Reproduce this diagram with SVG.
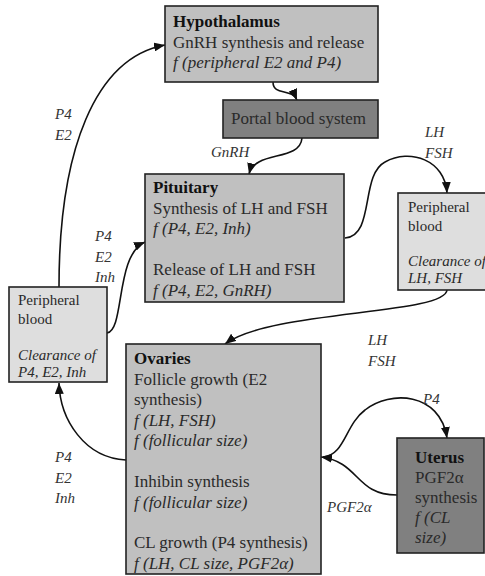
<svg xmlns="http://www.w3.org/2000/svg" width="485" height="576" viewBox="0 0 485 576">
<style>
  .box { stroke: #222; stroke-width: 1.6; }
  .light { fill: #c0c0c0; }
  .dark { fill: #808080; }
  .pale { fill: #dedede; }
  .t { font-family: "Liberation Serif", "Times New Roman", serif; font-size: 17px; fill: #2a2a2a; }
  .s { font-family: "Liberation Serif", "Times New Roman", serif; font-size: 15px; fill: #2a2a2a; }
  .b { font-weight: bold; fill: #111; }
  .i { font-style: italic; }
  .lbl { font-family: "Liberation Serif", "Times New Roman", serif; font-size: 15px; font-style: italic; fill: #333; }
  .edge { fill: none; stroke: #111; stroke-width: 1.6; }
</style>
<defs>
  <marker id="arr" viewBox="0 0 11 9" refX="11" refY="4.5" markerWidth="11" markerHeight="9" markerUnits="userSpaceOnUse" orient="auto">
    <path d="M0,0 L11,4.5 L0,9 z" fill="#111"/>
  </marker>
</defs>

<g id="edges">
  <path class="edge" marker-end="url(#arr)" d="M59 287 C59 150, 95 58, 165 45"/>
  <path class="edge" marker-end="url(#arr)" d="M107 333 C125 330, 115 255, 145 242"/>
  <path class="edge" marker-end="url(#arr)" d="M273 82 C273 96, 292 88, 297 100"/>
  <path class="edge" marker-end="url(#arr)" d="M302 138 C300 162, 255 150, 249 174"/>
  <path class="edge" marker-end="url(#arr)" d="M345 238 C375 236, 360 175, 385 162 C410 148, 445 160, 447 193"/>
  <path class="edge" marker-end="url(#arr)" d="M447 290 C445 315, 270 310, 225 344"/>
  <path class="edge" marker-end="url(#arr)" d="M126 460 C85 458, 60 420, 59 383"/>
  <path class="edge" marker-end="url(#arr)" d="M323 457 C345 455, 345 425, 365 410 C390 390, 440 392, 447 438"/>
  <path class="edge" marker-end="url(#arr)" d="M397 495 C355 495, 360 462, 321 457"/>
  <text class="lbl" x="55" y="119">P4</text>
  <text class="lbl" x="55" y="140">E2</text>
  <text class="lbl" x="95" y="241">P4</text>
  <text class="lbl" x="95" y="262">E2</text>
  <text class="lbl" x="95" y="282">Inh</text>
  <text class="lbl" x="211" y="157">GnRH</text>
  <text class="lbl" x="425" y="137">LH</text>
  <text class="lbl" x="425" y="158">FSH</text>
  <text class="lbl" x="368" y="345">LH</text>
  <text class="lbl" x="368" y="366">FSH</text>
  <text class="lbl" x="423" y="404">P4</text>
  <text class="lbl" x="327" y="512">PGF2α</text>
  <text class="lbl" x="55" y="462">P4</text>
  <text class="lbl" x="55" y="483">E2</text>
  <text class="lbl" x="55" y="503">Inh</text>
</g>

<g id="hypothalamus">
  <rect class="box light" x="165" y="6" width="213" height="76"/>
  <text class="t b" x="173" y="27">Hypothalamus</text>
  <text class="t" x="173" y="47.5">GnRH synthesis and release</text>
  <text class="t i" x="173" y="68">f (peripheral E2 and P4)</text>
</g>

<g id="portal">
  <rect class="box dark" x="223" y="100" width="155" height="38"/>
  <text class="t" x="231" y="124">Portal blood system</text>
</g>

<g id="pituitary">
  <rect class="box light" x="145" y="174" width="199" height="128"/>
  <text class="t b" x="153" y="193">Pituitary</text>
  <text class="t" x="153" y="213.5">Synthesis of LH and FSH</text>
  <text class="t i" x="153" y="234">f (P4, E2, Inh)</text>
  <text class="t" x="153" y="275">Release of LH and FSH</text>
  <text class="t i" x="153" y="295.5">f (P4, E2, GnRH)</text>
</g>

<g id="peripheral-left">
  <rect class="box pale" x="9" y="287" width="98" height="95"/>
  <text class="s" x="18" y="305">Peripheral</text>
  <text class="s" x="18" y="324">blood</text>
  <text class="s i" x="18" y="360">Clearance of</text>
  <text class="s i" x="18" y="377">P4, E2, Inh</text>
</g>

<g id="peripheral-right">
  <rect class="box pale" x="398" y="193" width="95" height="97"/>
  <text class="s" x="408" y="212">Peripheral</text>
  <text class="s" x="408" y="231">blood</text>
  <text class="s i" x="408" y="266">Clearance of</text>
  <text class="s i" x="408" y="283">LH, FSH</text>
</g>

<g id="ovaries">
  <rect class="box light" x="126" y="344" width="195" height="230"/>
  <text class="t b" x="134" y="364">Ovaries</text>
  <text class="t" x="134" y="384.5">Follicle growth (E2</text>
  <text class="t" x="134" y="405">synthesis)</text>
  <text class="t i" x="134" y="425.5">f (LH, FSH)</text>
  <text class="t i" x="134" y="446">f (follicular size)</text>
  <text class="t" x="134" y="487">Inhibin synthesis</text>
  <text class="t i" x="134" y="507.5">f (follicular size)</text>
  <text class="t" x="134" y="548">CL growth (P4 synthesis)</text>
  <text class="t i" x="134" y="568.5">f (LH, CL size, PGF2α)</text>
</g>

<g id="uterus">
  <rect class="box dark" x="397" y="438" width="87" height="115"/>
  <text class="t b" x="415" y="463">Uterus</text>
  <text class="t" x="415" y="483">PGF2α</text>
  <text class="t" x="415" y="503">synthesis</text>
  <text class="t i" x="415" y="523">f (CL</text>
  <text class="t i" x="415" y="543">size)</text>
</g>
</svg>
